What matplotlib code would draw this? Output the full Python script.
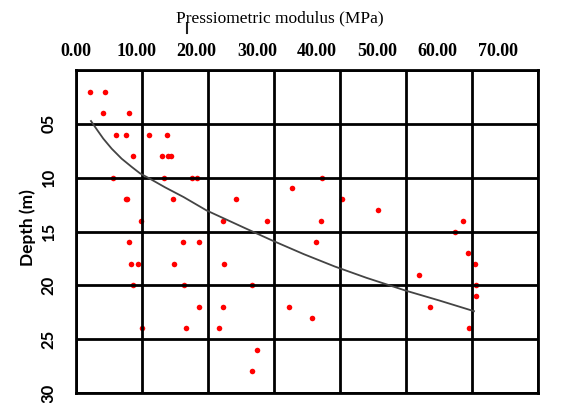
import matplotlib.pyplot as plt
from matplotlib.lines import Line2D

# Measured points (modulus in MPa, depth in m)
modulus = [2.1, 4.4, 4.1, 8.0, 6.0, 7.5, 11.1, 13.8, 8.7, 13.0, 14.0, 14.4,
           5.6, 13.4, 17.6, 18.4, 37.2, 32.7, 7.5, 7.8, 14.7, 24.2, 40.3,
           45.8, 9.9, 22.2, 28.9, 37.1, 58.6, 57.4, 8.0, 16.2, 18.6, 36.4,
           59.4, 8.4, 9.4, 14.8, 22.4, 60.4, 52.0, 8.7, 16.3, 26.7, 60.6,
           60.6, 18.6, 22.2, 32.3, 53.6, 35.8, 10.0, 16.7, 21.6, 59.6,
           27.4, 26.6]
depth = [2, 2, 4, 4, 6, 6, 6, 6, 8, 8, 8, 8,
         10, 10, 10, 10, 10, 11, 12, 12, 12, 12, 12,
         13, 14, 14, 14, 14, 14, 15, 16, 16, 16, 16,
         17, 18, 18, 18, 18, 18, 19, 20, 20, 20, 20,
         21, 22, 22, 22, 22, 23, 24, 24, 24, 24,
         26, 28]

# Trend curve
trend_modulus = [2.27, 3.14, 4.14, 5.41, 6.92, 8.44, 9.7, 11.2, 13.5, 16.3, 19.8,
                 25.3, 29.6, 34.5, 39.2, 44.0, 50.0, 55.0, 60.3]
trend_depth = [4.74, 5.51, 6.38, 7.31, 8.24, 9.0, 9.6, 10.1, 10.9, 11.8, 13.05,
               14.6, 15.8, 17.1, 18.25, 19.3, 20.5, 21.4, 22.4]

x_ticks = [0, 10, 20, 30, 40, 50, 60, 70]
x_labels = ["0.00", "10.00", "20.00", "30.00", "40.00", "50.00", "60.00", "70.00"]
y_ticks = [0, 5, 10, 15, 20, 25, 30]
y_labels = ["", "05", "10", "15", "20", "25", "30"]

W, H = 563, 403
fig = plt.figure(figsize=(W / 100, H / 100), dpi=100)
ax = fig.add_axes([76 / W, 1 - 393 / H, (538 - 76) / W, (393 - 70) / H])

ax.plot(modulus, depth, 'o', color='red', markersize=4, markeredgewidth=0, zorder=2)
ax.plot(trend_modulus, trend_depth, '-', color='#444444', linewidth=1.3, zorder=4)

ax.set_xlim(0, 70)
ax.set_ylim(30, 0)
ax.set_xticks(x_ticks)
ax.set_yticks(y_ticks)
ax.set_xticklabels([])
ax.set_yticklabels(y_labels, rotation=90, va='center',
                   family=['Liberation Sans Narrow', 'Lato'], fontweight='bold', fontsize=12)
ax.tick_params(axis='both', length=0)
ax.tick_params(axis='y', pad=14)
ax.grid(True, color='black', linewidth=2.0, zorder=3)
ax.set_axisbelow(False)
for s in ax.spines.values():
    s.set_linewidth(2.0)
    s.set_zorder(3)

# top labels are spaced a bit tighter than the grid in the original
ax2 = ax.twiny()
ax2.set_xlim(0, 70 * (538 - 76) / (497 - 75))
ax2.set_xticks(x_ticks)
ax2.set_xticklabels(x_labels, family='Liberation Serif', fontweight='bold', fontsize=13)
ax2.tick_params(axis='x', length=0, pad=7)
for s in ax2.spines.values():
    s.set_visible(False)

fig.text(280 / W, 1 - 18 / H, "Pressiometric modulus (MPa)", ha='center', va='center',
         family='Liberation Serif', fontsize=12.5)
fig.text(28 / W, 1 - 228 / H, "Depth (m)", rotation=90, ha='center', va='center',
         family='Lato', fontweight='bold', fontsize=12.5)
# small stray mark under the title
fig.add_artist(Line2D([186.5 / W, 186.5 / W], [1 - 23 / H, 1 - 33 / H], color='#222222', linewidth=1.5))

fig.savefig('out.png', dpi=100)
